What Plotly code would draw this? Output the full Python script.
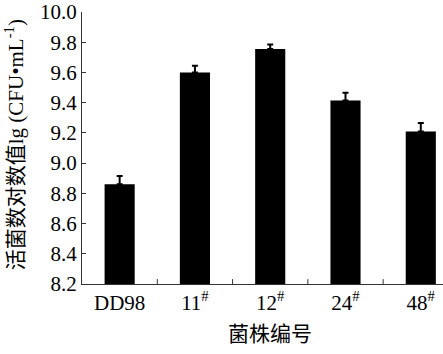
import plotly.graph_objects as go

categories = ["DD98", "11<sup>#</sup>", "12<sup>#</sup>", "24<sup>#</sup>", "48<sup>#</sup>"]
values = [8.86, 9.60, 9.755, 9.415, 9.21]
errors = [0.055, 0.045, 0.03, 0.05, 0.055]
y_min, y_max, y_step = 8.2, 10.0, 0.2

FONT = "Liberation Serif, Times New Roman, Noto Sans CJK SC, serif"

fig = go.Figure()
fig.add_trace(go.Bar(
    x=list(range(len(categories))), y=values,
    marker=dict(color="black", line=dict(width=0)),
    error_y=dict(type="data", array=errors, arrayminus=[0]*len(errors),
                 color="black", thickness=2, width=3),
    width=0.4,
))

fig.update_layout(
    width=443, height=354,
    margin=dict(l=82, r=0, t=7, b=70),
    paper_bgcolor="white", plot_bgcolor="white",
    showlegend=False,
    font=dict(family=FONT, size=21, color="black"),
    xaxis=dict(
        range=[-0.5, 4.295],
        tickmode="array", tickvals=list(range(len(categories))), ticktext=categories,
        showline=True, linecolor="#333", linewidth=1,
        ticks="", showgrid=False, zeroline=False,
        tickfont=dict(family=FONT, size=21),
        ticklabeloverflow="allow",
    ),
    yaxis=dict(
        range=[y_min, y_max],
        tickmode="linear", tick0=y_min, dtick=y_step, tickformat=".1f",
        showline=True, linecolor="#333", linewidth=1,
        ticks="inside", ticklen=4, tickcolor="#333",
        showgrid=False, zeroline=False,
        tickfont=dict(family=FONT, size=21),
        ticklabeloverflow="allow",
    ),
    bargap=0.6,
)

# x ticks between categories (inside, pointing up)
boundary_ticks = [0.5, 1.5, 2.5, 3.5]
for b in boundary_ticks:
    fig.add_shape(type="line", xref="x", yref="y domain", x0=b, x1=b, y0=0, y1=0.018,
                  line=dict(color="#333", width=1))

fig.add_annotation(
    text="活菌数对数值lg (CFU•mL<sup>-1</sup>)",
    xref="paper", yref="paper", x=(14 - 82) / 361, y=0.51,
    xanchor="center", yanchor="middle", textangle=-90, showarrow=False,
    font=dict(family=FONT, size=21),
)
fig.add_annotation(
    text="菌株编号",
    xref="paper", yref="paper", x=(270 - 82) / 361, y=-0.184,
    xanchor="center", yanchor="middle", showarrow=False,
    font=dict(family=FONT, size=21),
)

fig.write_html("out.html")
